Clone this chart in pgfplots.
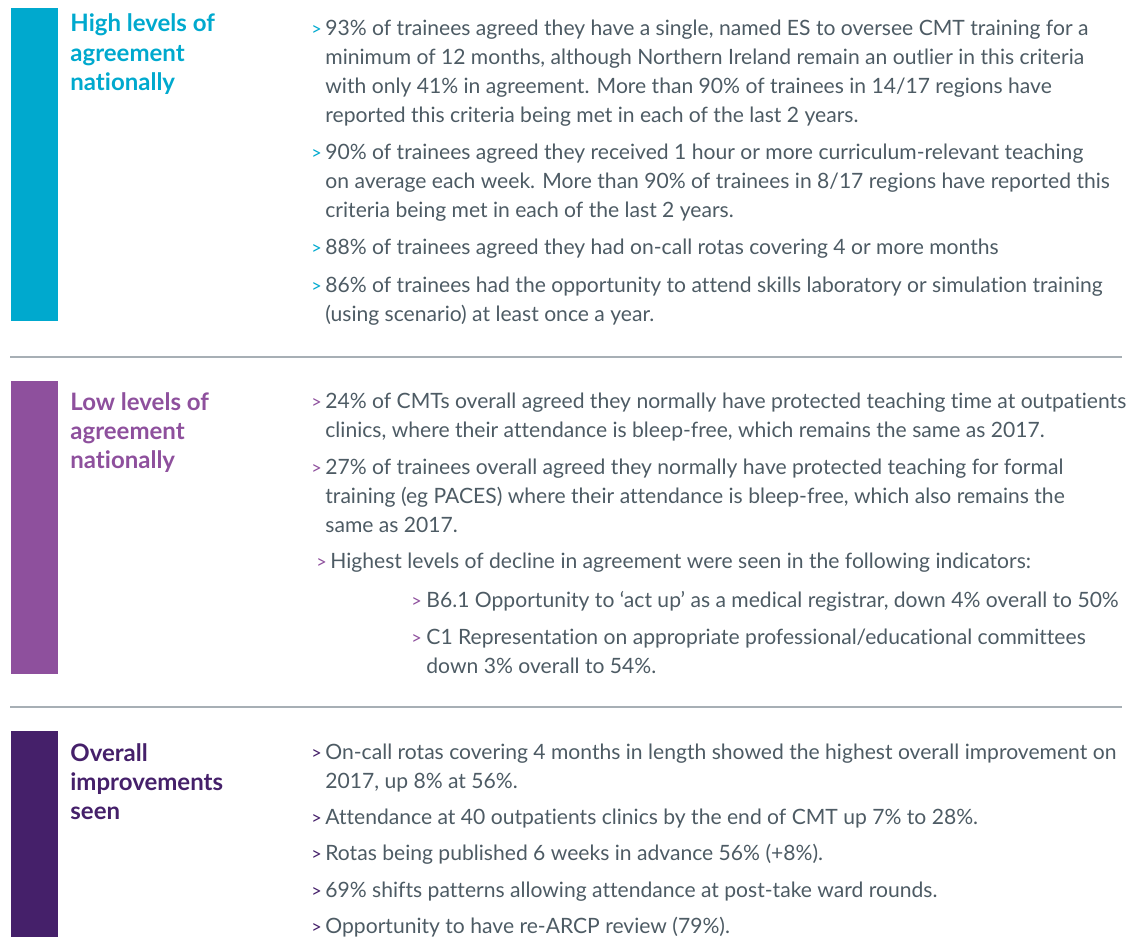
\documentclass[border=0pt]{standalone}
\usepackage{fontspec}
\setmainfont{Lato}[Ligatures=NoCommon]
\usepackage{pgfplots}
\pgfplotsset{compat=1.18}

\definecolor{hlcyan}{HTML}{00A9CE}
\definecolor{hlpurple}{HTML}{8E509D}
\definecolor{hldark}{HTML}{45206A}
\definecolor{txtgray}{HTML}{4D5B64}
\definecolor{sepgray}{HTML}{A7AFB5}

\newcommand{\hd}{\fontsize{12}{14}\bfseries\selectfont}
\newcommand{\bd}{\fontsize{10.55}{14}\selectfont\color{txtgray}}
\newcommand{\chev}{\fontsize{9}{9}\selectfont >}

% one line of text at pixel position (x, baseline y)
\newcommand{\txt}[3]{\node[anchor=base west, inner sep=0pt] at (axis cs:#1,#2) {\bd #3};}
\newcommand{\blt}[3]{\node[anchor=base west, inner sep=0pt, text=#3] at (axis cs:#1,#2) {\chev};}
\newcommand{\hdl}[4]{\node[anchor=base west, inner sep=0pt, text=#4] at (axis cs:#1,#2) {\hd #3};}

\begin{document}
\begin{tikzpicture}
\begin{axis}[
    name=ax,
    scale only axis,
    width=567pt, height=468.5pt,
    xmin=0, xmax=1134, ymin=0, ymax=937,
    y dir=reverse,
    hide axis,
    clip=false,
    no markers
]
% coloured side bars
\addplot[fill=hlcyan, draw=none] coordinates {(11,8) (58,8) (58,321) (11,321)};
\addplot[fill=hlpurple, draw=none] coordinates {(11,381) (58,381) (58,674) (11,674)};
\addplot[fill=hldark, draw=none] coordinates {(11,731) (58,731) (58,937) (11,937)};
% separators
\addplot[sepgray, line width=1.4pt] coordinates {(10,357) (1122,357)};
\addplot[sepgray, line width=1.4pt] coordinates {(10,707) (1122,707)};

% section 1
\hdl{70}{32}{High levels of}{hlcyan}
\hdl{70}{61}{agreement}{hlcyan}
\hdl{70}{90}{nationally}{hlcyan}

\blt{311}{35}{hlcyan}
\txt{325}{35}{93\% of trainees agreed they have a single, named ES to oversee CMT training for a}
\txt{325}{64}{minimum of 12 months, although Northern Ireland remain an outlier in this criteria}
\txt{325}{93}{with only 41\% in agreement. More than 90\% of trainees in 14/17 regions have}
\txt{325}{122}{reported this criteria being met in each of the last 2 years.}
\blt{311}{159}{hlcyan}
\txt{325}{159}{90\% of trainees agreed they received 1 hour or more curriculum-relevant teaching}
\txt{325}{188}{on average each week. More than 90\% of trainees in 8/17 regions have reported this}
\txt{325}{217}{criteria being met in each of the last 2 years.}
\blt{311}{254}{hlcyan}
\txt{325}{254}{88\% of trainees agreed they had on-call rotas covering 4 or more months}
\blt{311}{292}{hlcyan}
\txt{325}{292}{86\% of trainees had the opportunity to attend skills laboratory or simulation training}
\txt{325}{321}{(using scenario) at least once a year.}

% section 2
\hdl{70}{410}{Low levels of}{hlpurple}
\hdl{70}{439}{agreement}{hlpurple}
\hdl{70}{468}{nationally}{hlpurple}

\blt{311}{408}{hlpurple}
\txt{325}{408}{24\% of CMTs overall agreed they normally have protected teaching time at outpatients}
\txt{325}{437}{clinics, where their attendance is bleep-free, which remains the same as 2017.}
\blt{311}{474}{hlpurple}
\txt{325}{474}{27\% of trainees overall agreed they normally have protected teaching for formal}
\txt{325}{503}{training (eg PACES) where their attendance is bleep-free, which also remains the}
\txt{325}{532}{same as 2017.}
\blt{316}{568}{hlpurple}
\txt{330}{568}{Highest levels of decline in agreement were seen in the following indicators:}
\blt{411}{607}{hlpurple}
\txt{426}{607}{B6.1 Opportunity to ‘act up’ as a medical registrar, down 4\% overall to 50\%}
\blt{411}{644}{hlpurple}
\txt{426}{644}{C1 Representation on appropriate professional/educational committees}
\txt{426}{673}{down 3\% overall to 54\%.}

% section 3
\hdl{70}{761}{Overall}{hldark}
\hdl{70}{790}{improvements}{hldark}
\hdl{70}{819}{seen}{hldark}

\blt{311}{759}{hldark}
\txt{325}{759}{On-call rotas covering 4 months in length showed the highest overall improvement on}
\txt{325}{788}{2017, up 8\% at 56\%.}
\blt{311}{824}{hldark}
\txt{325}{824}{Attendance at 40 outpatients clinics by the end of CMT up 7\% to 28\%.}
\blt{311}{860}{hldark}
\txt{325}{860}{Rotas being published 6 weeks in advance 56\% (+8\%).}
\blt{311}{897}{hldark}
\txt{325}{897}{69\% shifts patterns allowing attendance at post-take ward rounds.}
\blt{311}{933}{hldark}
\txt{325}{933}{Opportunity to have re-ARCP review (79\%).}
\end{axis}
\pgfresetboundingbox
\useasboundingbox (ax.south west) rectangle (ax.north east);
\end{tikzpicture}
\end{document}
